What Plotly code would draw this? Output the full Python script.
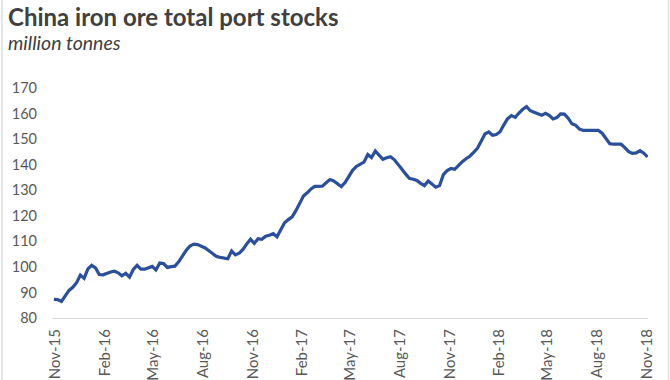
import pandas as pd
import plotly.graph_objects as go

start_date = "2015-10-30"
stocks = [
    87.3, 87.2, 86.5, 88.6, 90.8, 92.0, 93.8, 96.8, 95.5, 99.2,
    100.6, 99.6, 97.0, 96.9, 97.5, 98.0, 98.3, 97.7, 96.5, 97.5,
    96.0, 99.0, 100.6, 99.1, 99.1, 99.7, 100.2, 98.8, 101.5, 101.3,
    99.8, 100.1, 100.3, 102.0, 104.4, 106.5, 108.2, 108.9, 108.7, 108.0,
    107.4, 106.3, 105.0, 104.1, 103.7, 103.6, 103.2, 106.2, 104.7, 105.4,
    106.8, 109.0, 110.8, 109.2, 111.0, 110.8, 112.0, 112.4, 113.0, 111.8,
    114.8, 117.3, 118.5, 119.6, 122.0, 125.0, 127.7, 129.0, 130.5, 131.5,
    131.6, 131.6, 132.9, 134.2, 133.6, 132.6, 131.4, 133.0, 135.3, 137.8,
    139.3, 140.1, 141.0, 144.0, 142.8, 145.4, 143.9, 142.1, 142.7, 143.1,
    142.0, 140.3, 138.3, 136.4, 134.7, 134.3, 133.8, 132.7, 131.8, 133.6,
    132.3, 131.2, 131.8, 136.1, 137.7, 138.5, 138.2, 139.9, 141.2, 142.3,
    143.3, 144.8, 146.4, 149.2, 152.0, 152.8, 151.5, 151.8, 152.9, 155.6,
    158.0, 159.2, 158.5, 160.2, 161.7, 162.7, 161.1, 160.5, 160.0, 159.3,
    160.1, 159.3, 157.9, 158.4, 159.9, 159.8, 158.2, 156.0, 155.4, 153.9,
    153.4, 153.4, 153.5, 153.5, 153.4, 152.3, 150.3, 148.2, 148.0, 147.9,
    148.0, 146.7, 145.1, 144.4, 144.6, 145.5, 144.5, 143.0,
]
dates = pd.date_range(start_date, periods=len(stocks), freq="7D")

tick_dates = ["2015-11-01", "2016-02-01", "2016-05-01", "2016-08-01", "2016-11-01",
              "2017-02-01", "2017-05-01", "2017-08-01", "2017-11-01", "2018-02-01",
              "2018-05-01", "2018-08-01", "2018-11-01"]
tick_labels = ["Nov-15", "Feb-16", "May-16", "Aug-16", "Nov-16", "Feb-17", "May-17",
               "Aug-17", "Nov-17", "Feb-18", "May-18", "Aug-18", "Nov-18"]
y_ticks = [80, 90, 100, 110, 120, 130, 140, 150, 160, 170]

title_text = "China iron ore total port stocks"
subtitle_text = "million tonnes"

W, H = 670, 380
ML, MR, MT, MB = 52, 22, 88, 62
PW, PH = W - ML - MR, H - MT - MB


def px(xp):
    return (xp - ML) / PW


def py(yp):
    return (H - MB - yp) / PH


fig = go.Figure()
fig.add_trace(go.Scatter(
    x=dates, y=stocks, mode="lines",
    line=dict(color="#2B4F99", width=3.2),
    hoverinfo="x+y", showlegend=False,
))

fig.update_layout(
    width=W, height=H,
    margin=dict(l=ML, r=MR, t=MT, b=MB, autoexpand=False),
    paper_bgcolor="white", plot_bgcolor="white",
    font=dict(family="Lato, 'Open Sans', sans-serif", color="#595959", size=13),
    xaxis=dict(
        range=["2015-10-26 12:00", "2018-11-02 20:00"],
        tickvals=tick_dates, ticktext=tick_labels, tickangle=-90,
        showgrid=False, zeroline=False, automargin=False,
        showline=True, linecolor="#D9D9D9", linewidth=1,
        ticks="", ticklabelstandoff=4,
        tickfont=dict(size=15, color="#595959"),
    ),
    yaxis=dict(
        range=[80, 170], tickvals=y_ticks, automargin=False,
        showgrid=False, zeroline=False, showline=False, ticks="",
        ticklabelstandoff=14,
        tickfont=dict(size=14.5, color="#595959"),
    ),
)

fig.add_annotation(
    text="<b>" + title_text + "</b>", xref="paper", yref="paper",
    x=px(6), y=py(0), xanchor="left", yanchor="top", showarrow=False,
    font=dict(size=24, color="#404040", family="Lato, sans-serif"),
)
fig.add_annotation(
    text="<i>" + subtitle_text + "</i>", xref="paper", yref="paper",
    x=px(6), y=py(29), xanchor="left", yanchor="top", showarrow=False,
    font=dict(size=19.5, color="#404040", family="Lato, sans-serif"),
)
fig.add_shape(type="line", xref="paper", yref="paper",
              x0=px(2), x1=px(2), y0=py(H), y1=py(0),
              line=dict(color="#DDDDDD", width=1.5))
fig.add_shape(type="line", xref="paper", yref="paper",
              x0=px(668.5), x1=px(668.5), y0=py(H), y1=py(0),
              line=dict(color="#DDDDDD", width=1.5))

fig.write_html("out.html", config={"displayModeBar": False},
               post_script="document.body.style.margin='0';")
